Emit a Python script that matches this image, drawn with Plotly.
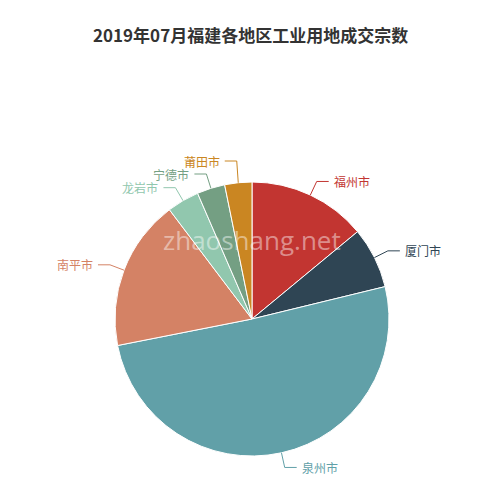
import math
import plotly.graph_objects as go

labels = ["福州市", "厦门市", "泉州市", "南平市", "龙岩市", "宁德市", "莆田市"]
values = [14.0, 7.2, 50.7, 17.8, 3.8, 3.3, 3.2]
colors = ["#c23531", "#2f4554", "#61a0a8", "#d48265", "#91c7ae", "#749f83", "#ca8622"]

W, H = 500, 490
OFF = 8  # page body margin offset
cx, cy, R = 252 - OFF, 319 - OFF, 137
GAP = 13

fig = go.Figure(go.Pie(
    labels=labels, values=values, sort=False, direction="clockwise", rotation=0,
    marker=dict(colors=colors, line=dict(color="white", width=1)),
    textinfo="none", hoverinfo="label+value",
    domain=dict(x=[(cx - R) / W, (cx + R) / W], y=[(H - cy - R) / H, (H - cy + R) / H]),
    showlegend=False,
))

total = sum(values)
acc = 0
items = []
for lab, v, c in zip(labels, values, colors):
    mid = (acc + v / 2) / total * 2 * math.pi
    acc += v
    sx, sy = math.sin(mid), -math.cos(mid)
    items.append(dict(lab=lab, c=c, sx=sx, sy=sy, side=1 if sx >= 0 else -1,
                      y=cy + (R + 15) * sy))

for side in (1, -1):
    grp = sorted([it for it in items if it["side"] == side], key=lambda it: -it["y"])
    for a, b in zip(grp, grp[1:]):
        if b["y"] > a["y"] - GAP:
            b["y"] = a["y"] - GAP

shapes, annos = [], []
for it in items:
    sx, sy, side, c = it["sx"], it["sy"], it["side"], it["c"]
    p1 = (cx + R * sx, cy + R * sy)
    p2 = (cx + (R + 15) * sx, it["y"])
    p3 = (p2[0] + side * 12, p2[1])
    path = "M " + " L ".join(f"{x / W},{1 - y / H}" for x, y in (p1, p2, p3))
    shapes.append(dict(type="path", xref="paper", yref="paper", path=path,
                       line=dict(color=c, width=1)))
    annos.append(dict(x=(p3[0] + side * 3) / W, y=1 - p3[1] / H, xref="paper", yref="paper",
                      text=it["lab"], showarrow=False, yanchor="middle",
                      xanchor="left" if side > 0 else "right",
                      font=dict(size=12, color=c)))

annos.append(dict(x=(250 - OFF) / W, y=1 - (35 - OFF) / H, xref="paper", yref="paper",
                  showarrow=False, yanchor="middle",
                  text="<b>2019年07月福建各地区工业用地成交宗数</b>",
                  font=dict(size=17, color="#333", family="Noto Sans CJK SC")))
annos.append(dict(x=(252 - OFF) / W, y=1 - (240 - OFF) / H, xref="paper", yref="paper",
                  showarrow=False, yanchor="middle", text="zhaoshang.net",
                  font=dict(size=26, color="rgba(255,255,255,0.45)", family="Open Sans")))

fig.update_layout(width=W, height=H, margin=dict(l=0, r=0, t=0, b=0),
                  paper_bgcolor="white", shapes=shapes, annotations=annos,
                  font=dict(family="Noto Sans CJK SC"))
fig.write_html("out.html")
